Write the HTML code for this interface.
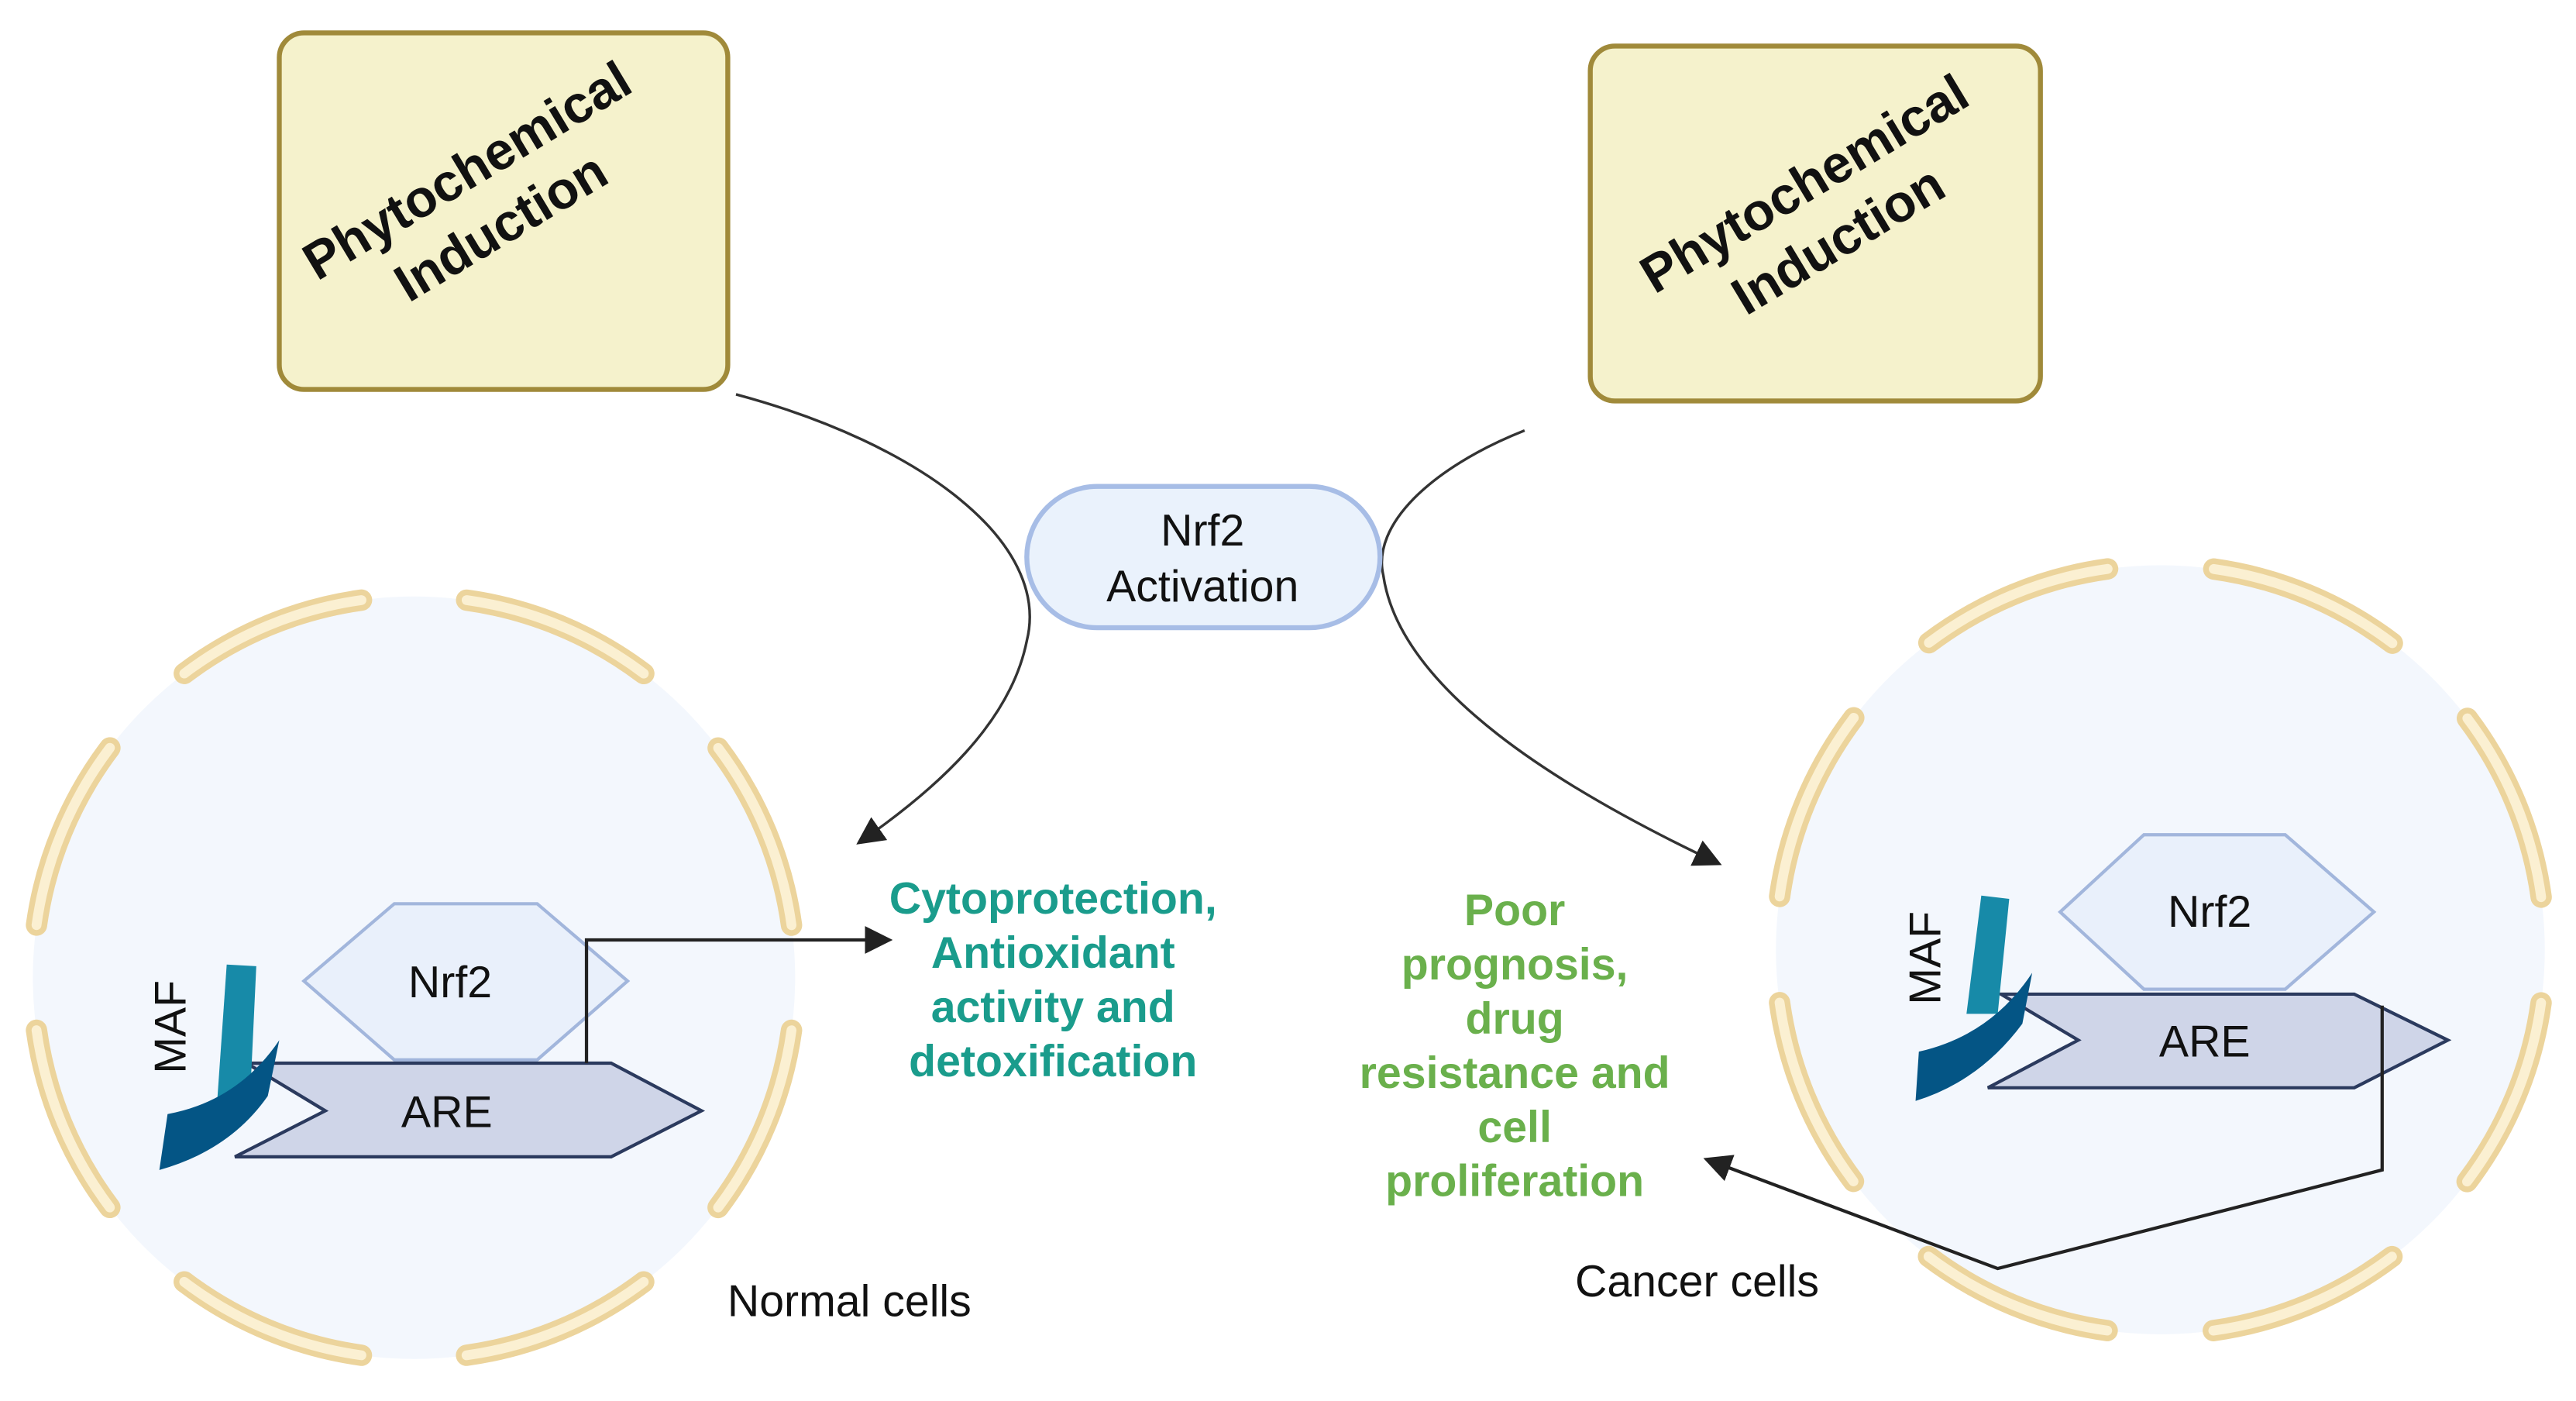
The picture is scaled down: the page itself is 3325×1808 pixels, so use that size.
<!DOCTYPE html>
<html><head><meta charset="utf-8"><style>
html,body{margin:0;padding:0;background:#fff;}
svg{display:block;}
text{font-family:"Liberation Sans",sans-serif;}
</style></head><body>
<svg width="3325" height="1808" viewBox="0 0 1568 852.6" xmlns="http://www.w3.org/2000/svg">
<defs>
<marker id="a" viewBox="0 0 10 10" refX="8" refY="5" markerWidth="17" markerHeight="17" orient="auto-start-reverse" markerUnits="userSpaceOnUse"><path d="M0,0 L10,5 L0,10 Z" fill="#222"/></marker>
</defs>
<rect width="1568" height="853" fill="#fff"/>

<g>
<circle cx="252" cy="595" r="232" fill="#f3f7fd"/>
<circle cx="252" cy="595" r="232" fill="none" stroke="#ecd49c" stroke-width="13" stroke-linecap="round" stroke-dasharray="118 64.2" stroke-dashoffset="150.1"/>
<circle cx="252" cy="595" r="232" fill="none" stroke="#fbf0d2" stroke-width="6" stroke-linecap="round" stroke-dasharray="118 64.2" stroke-dashoffset="150.1"/>
<circle cx="1315" cy="578" r="234" fill="#f3f7fd"/>
<circle cx="1315" cy="578" r="234" fill="none" stroke="#ecd49c" stroke-width="13" stroke-linecap="round" stroke-dasharray="119 64.8" stroke-dashoffset="151.4"/>
<circle cx="1315" cy="578" r="234" fill="none" stroke="#fbf0d2" stroke-width="6" stroke-linecap="round" stroke-dasharray="119 64.8" stroke-dashoffset="151.4"/>
</g>

<rect x="170" y="20" width="273" height="217" rx="15" fill="#f5f2cc" stroke="#a08a3a" stroke-width="3"/>
<g transform="translate(294,120) rotate(-31)" font-weight="bold" font-size="32" fill="#111" text-anchor="middle">
<text x="0" y="-8">Phytochemical</text><text x="0" y="32">Induction</text></g>
<rect x="968" y="28" width="274" height="216" rx="15" fill="#f5f2cc" stroke="#a08a3a" stroke-width="3"/>
<g transform="translate(1108,128) rotate(-31)" font-weight="bold" font-size="32" fill="#111" text-anchor="middle">
<text x="0" y="-8">Phytochemical</text><text x="0" y="32">Induction</text></g>

<path d="M448,240 C560,270 640,330 625,390 C615,440 570,480 524,512" fill="none" stroke="#333" stroke-width="1.6" marker-end="url(#a)"/>
<path d="M928,262 C870,285 835,320 842,350 C852,420 950,480 1045,525" fill="none" stroke="#333" stroke-width="1.6" marker-end="url(#a)"/>

<rect x="625" y="296" width="215" height="86" rx="43" fill="#eaf2fc" stroke="#a7bde6" stroke-width="3"/>
<text x="732" y="332" font-size="27" text-anchor="middle" fill="#111">Nrf2</text>
<text x="732" y="366" font-size="27" text-anchor="middle" fill="#111">Activation</text>

<polygon points="185,597 240,550 327,550 382,597 327,645 240,645" fill="#e9f0fb" stroke="#a2b6dc" stroke-width="2"/>
<text x="274" y="607" font-size="27" text-anchor="middle" fill="#111">Nrf2</text>
<polygon points="150,647 372,647 427,676 372,704 143,704 198,676" fill="#cfd5e8" stroke="#2b3a5e" stroke-width="2"/>
<text x="272" y="686" font-size="27" text-anchor="middle" fill="#111">ARE</text>
<polygon points="138,587 156,588 152,673 132,673" fill="#178aa8"/>
<path d="M102,678 Q145,670 170,633 L163,667 Q140,700 97,712 Z" fill="#045585"/>
<text transform="translate(113,625) rotate(-90)" font-size="27" text-anchor="middle" fill="#111">MAF</text>
<polyline points="357,647 357,572 540,572" fill="none" stroke="#222" stroke-width="2" marker-end="url(#a)"/>

<polygon points="1254,555 1305,508 1391,508 1445,555 1391,602 1305,602" fill="#e9f0fb" stroke="#a2b6dc" stroke-width="2"/>
<text x="1345" y="564" font-size="27" text-anchor="middle" fill="#111">Nrf2</text>
<polygon points="1218,605 1433,605 1490,633 1433,662 1210,662 1265,633" fill="#cfd5e8" stroke="#2b3a5e" stroke-width="2"/>
<text x="1342" y="643" font-size="27" text-anchor="middle" fill="#111">ARE</text>
<polygon points="1206,545 1223,547 1216,617 1197,617" fill="#178aa8"/>
<path d="M1168,640 Q1212,630 1237,592 L1231,623 Q1205,658 1166,670 Z" fill="#045585"/>
<text transform="translate(1181,583) rotate(-90)" font-size="27" text-anchor="middle" fill="#111">MAF</text>
<polyline points="1450,612 1450,712 1216,772 1040,706" fill="none" stroke="#222" stroke-width="2" marker-end="url(#a)"/>

<g font-weight="bold" font-size="27" text-anchor="middle" fill="#1a9c8c">
<text x="641" y="556">Cytoprotection,</text>
<text x="641" y="589">Antioxidant</text>
<text x="641" y="622">activity and</text>
<text x="641" y="655">detoxification</text>
</g>
<g font-weight="bold" font-size="27" text-anchor="middle" fill="#6ab04c">
<text x="922" y="563">Poor</text>
<text x="922" y="596">prognosis,</text>
<text x="922" y="629">drug</text>
<text x="922" y="662">resistance and</text>
<text x="922" y="695">cell</text>
<text x="922" y="728">proliferation</text>
</g>
<text x="517" y="801" font-size="27" text-anchor="middle" fill="#111">Normal cells</text>
<text x="1033" y="789" font-size="27" text-anchor="middle" fill="#111">Cancer cells</text>
</svg>
</body></html>
